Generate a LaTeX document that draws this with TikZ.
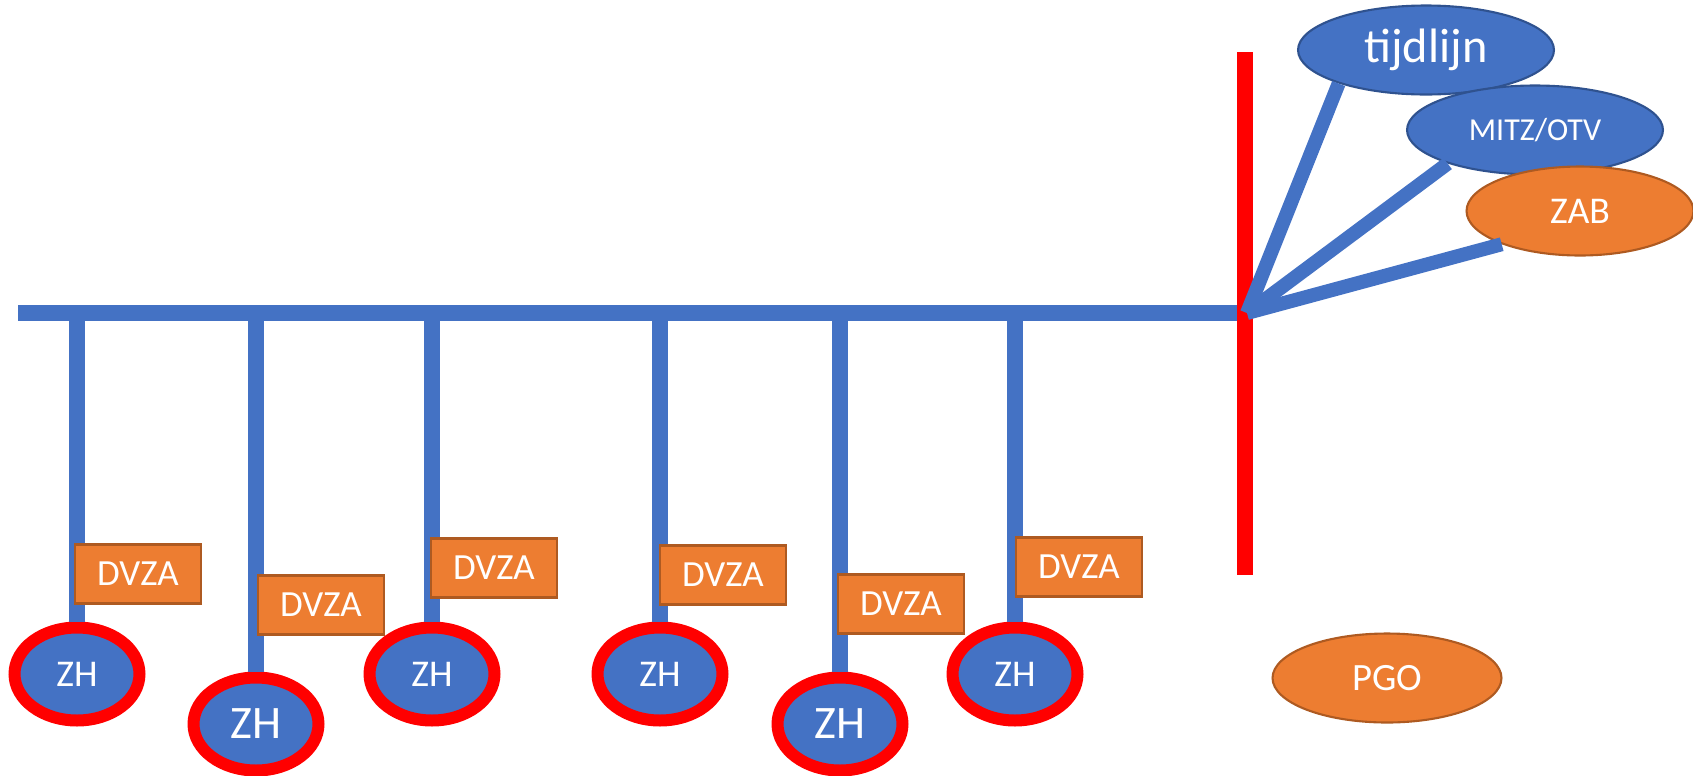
\documentclass[tikz,border=0pt]{standalone}
\usepackage{fontspec}
\setmainfont{Carlito}
\usepackage{tikz}
\usetikzlibrary{shapes.geometric}
\definecolor{officeblue}{HTML}{4472C4}
\definecolor{blueedge}{HTML}{2F528F}
\definecolor{officeorange}{HTML}{ED7D31}
\definecolor{orangeedge}{HTML}{AE5A21}
\definecolor{markred}{HTML}{FF0000}

\begin{document}
\begin{tikzpicture}[x=0.02cm,y=-0.02cm,
  zh_node/.style={ellipse,fill=officeblue,draw=markred,line width=0.24cm,text=white,inner sep=0pt,minimum width=2.5cm,minimum height=1.86cm,font=\fontsize{21.5}{25}\selectfont},
  zh_big/.style={zh_node,font=\fontsize{26.5}{31}\selectfont},
  dvza_node/.style={rectangle,fill=officeorange,draw=orangeedge,line width=1.2pt,text=white,inner sep=0pt,minimum width=2.52cm,minimum height=1.18cm,font=\fontsize{21}{25}\selectfont},
  blue_oval/.style={ellipse,fill=officeblue,draw=blueedge,line width=1.2pt,text=white,inner sep=0pt,minimum width=5.12cm,minimum height=1.78cm},
  orange_oval/.style={ellipse,fill=officeorange,draw=orangeedge,line width=1.2pt,text=white,inner sep=0pt,minimum height=1.78cm,font=\fontsize{22}{26}\selectfont}]

    \useasboundingbox (0,0) rectangle (1693,775);

    \node[zh_node] (zh1) at (77,674) {ZH};
    \node[zh_big] (zh2) at (256,724) {ZH};
    \node[zh_node] (zh3) at (432,674) {ZH};
    \node[zh_node] (zh4) at (660,674) {ZH};
    \node[zh_big] (zh5) at (840,724) {ZH};
    \node[zh_node] (zh6) at (1015,674) {ZH};

    \coordinate (bar_left) at (18,313);
    \coordinate (hub) at (1247,313);
    \coordinate (red_top) at (1245,52);
    \coordinate (red_bottom) at (1245,575);

    \begin{scope}[every path/.style={draw=officeblue,line width=0.32cm}]
    \draw (bar_left) -- (hub);
    \draw (zh1 |- hub) -- (zh1.north);
    \draw (zh2 |- hub) -- (zh2.north);
    \draw (zh3 |- hub) -- (zh3.north);
    \draw (zh4 |- hub) -- (zh4.north);
    \draw (zh5 |- hub) -- (zh5.north);
    \draw (zh6 |- hub) -- (zh6.north);
    \end{scope}
    \draw[markred,line width=0.32cm] (red_top) -- (red_bottom);

    \node[dvza_node] (dvza1) at (138,574) {DVZA};
    \node[dvza_node] (dvza2) at (321,605) {DVZA};
    \node[dvza_node] (dvza3) at (494,568) {DVZA};
    \node[dvza_node] (dvza4) at (723,575) {DVZA};
    \node[dvza_node] (dvza5) at (901,604) {DVZA};
    \node[dvza_node] (dvza6) at (1079,567) {DVZA};

    \node[blue_oval,font=\fontsize{27.5}{33}\selectfont] (tijd) at (1426,50) {tijdlijn};
    \node[blue_oval,font=\fontsize{18.2}{22}\selectfont] (mitz) at (1535,130) {MITZ/OTV};
    \node[orange_oval,minimum width=4.54cm,font=\fontsize{21.5}{25}\selectfont] (zab) at (1580,211) {ZAB};
    \node[orange_oval,minimum width=4.58cm] (pgo) at (1387,678) {PGO};

    \begin{scope}[every path/.style={draw=officeblue,line width=0.28cm}]
    \draw (hub) -- (tijd.201);
    \draw (hub) -- (mitz.201);
    \draw (hub) -- (zab.203);
    \end{scope}
\end{tikzpicture}
\end{document}
